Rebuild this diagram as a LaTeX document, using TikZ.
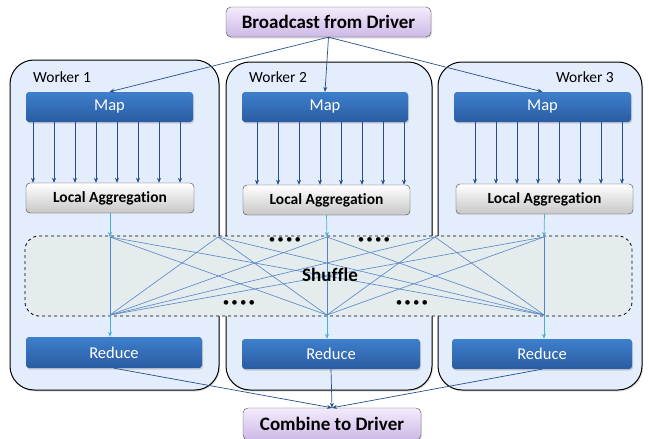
\documentclass[tikz,border=0pt]{standalone}
\usepackage{fontspec}
\setmainfont{Carlito}[Ligatures=NoCommon]
\usepackage{tikz}
\usetikzlibrary{arrows.meta,shadows}
\definecolor{workerfill}{RGB}{228,237,252}
\definecolor{maptop}{RGB}{62,127,204}
\definecolor{mapbot}{RGB}{42,92,162}
\definecolor{drvtop}{RGB}{244,236,252}
\definecolor{drvbot}{RGB}{204,184,230}
\definecolor{shuffill}{RGB}{228,236,238}
\definecolor{darkarrow}{RGB}{38,78,140}
\definecolor{shufline}{RGB}{84,132,200}
\definecolor{cyanarrow}{RGB}{72,176,212}

\begin{document}
\begin{tikzpicture}[x=1pt,y=-1pt,>={Stealth[length=5pt,width=4pt]},
  worker/.style={draw=black,line width=1pt,rounded corners=24pt,fill=workerfill,
    drop shadow={opacity=.25,shadow xshift=1pt,shadow yshift=-1.5pt}},
  bluebox/.style={rounded corners=3pt,top color=maptop,bottom color=mapbot,text=white,
    inner sep=0pt,font=\fontsize{16.5}{18}\selectfont,
    drop shadow={opacity=.3,shadow xshift=1pt,shadow yshift=-1.5pt}},
  aggbox/.style={draw=black!75,rounded corners=4pt,top color=white,bottom color=black!22,
    inner sep=0pt,font=\bfseries\fontsize{15.5}{18}\selectfont,minimum height=30},
  drvbox/.style={draw=black!70,rounded corners=5pt,top color=drvtop,bottom color=drvbot,
    inner sep=0pt,font=\bfseries\fontsize{19}{22}\selectfont,
    drop shadow={opacity=.25,shadow xshift=1pt,shadow yshift=-1.5pt}},
  wlabel/.style={font=\fontsize{15.5}{18}\selectfont,inner sep=0pt},
  dots/.style={font=\fontsize{13}{14}\selectfont,inner sep=0pt}]
\useasboundingbox (0,0) rectangle (649,439);

% workers
\node[worker,minimum width=209,minimum height=330] (w1) at (114.5,225) {};
\node[worker,minimum width=206,minimum height=328] (w2) at (329,226) {};
\node[worker,minimum width=204,minimum height=328] (w3) at (540,226) {};
\node[wlabel,anchor=west] (l1) at (33,77) {Worker 1};
\node[wlabel,anchor=west] (l2) at (249,77) {Worker 2};
\node[wlabel,anchor=east] (l3) at (614,77) {Worker 3};

% map and aggregation
\node[bluebox,minimum width=167,minimum height=30] (map1) at (109.5,107) {Map};
\node[bluebox,minimum width=166,minimum height=30] (map2) at (325,107) {Map};
\node[bluebox,minimum width=177,minimum height=30] (map3) at (542.5,107) {Map};
\node[aggbox,minimum width=168] (agg1) at (110,198) {Local Aggregation};
\node[aggbox,minimum width=167] (agg2) at (326.5,200) {Local Aggregation};
\node[aggbox,minimum width=177] (agg3) at (544.5,199) {Local Aggregation};
\foreach \m/\a/\s in {map1/agg1/33,map2/agg2/257,map3/agg3/475}
  \foreach \i in {0,...,7}{
    \pgfmathsetmacro\xx{\s+\i*21}
    \draw[->,darkarrow,line width=0.6pt] (\xx,0 |- \m.south) -- (\xx,0 |- \a.north);
  }

% shuffle
\node[draw=black,dashed,line width=0.8pt,rounded corners=14pt,fill=shuffill,
  minimum width=607,minimum height=80,inner sep=0pt] (shuffle) at (328.5,276) {};
\coordinate (T1) at (110,237);
\coordinate (T2) at (218,237);
\coordinate (T3) at (327,237);
\coordinate (T4) at (435,237);
\coordinate (T5) at (544,237);
\coordinate (B1) at (110,315);
\coordinate (B3) at (327,315);
\coordinate (B5) at (544,315);
\foreach \t in {T1,T2,T3,T4,T5}
  \foreach \b in {B1,B3,B5}
    \draw[shufline,line width=0.6pt] (\t) -- (\b);
\node[font=\bfseries\fontsize{19}{22}\selectfont,inner sep=0pt] (shuf) at (330,275) {Shuffle};
\node[dots] (d1) at (285,241) {\textbullet\,\textbullet\,\textbullet\,\textbullet};
\node[dots] (d2) at (374,241) {\textbullet\,\textbullet\,\textbullet\,\textbullet};
\node[dots] (d3) at (239,304) {\textbullet\,\textbullet\,\textbullet\,\textbullet};
\node[dots] (d4) at (412,304) {\textbullet\,\textbullet\,\textbullet\,\textbullet};

% reduce
\node[bluebox,minimum width=176,minimum height=31] (red1) at (114,352.5) {Reduce};
\node[bluebox,minimum width=178,minimum height=30] (red2) at (331,354) {Reduce};
\node[bluebox,minimum width=180,minimum height=30] (red3) at (542,354) {Reduce};
\foreach \a/\t/\b/\r in {agg1/T1/B1/red1,agg2/T3/B3/red2,agg3/T5/B5/red3}{
  \draw[->,cyanarrow,line width=0.7pt] (\a.south) -- (\t);
  \draw[->,cyanarrow,line width=0.7pt] (\b) -- (\b |- \r.north);
}

% driver
\node[drvbox,minimum width=205,minimum height=30] (bcast) at (328.5,22) {Broadcast from Driver};
\node[drvbox,minimum width=178,minimum height=32] (comb) at (332,424) {Combine to Driver};
\foreach \m in {map1,map2,map3}
  \draw[->,darkarrow,line width=0.7pt] (bcast.south) -- (\m.north);
\foreach \r in {red1,red2,red3}
  \draw[->,darkarrow,line width=0.7pt] (\r.south) -- (comb.north);
\end{tikzpicture}
\end{document}
